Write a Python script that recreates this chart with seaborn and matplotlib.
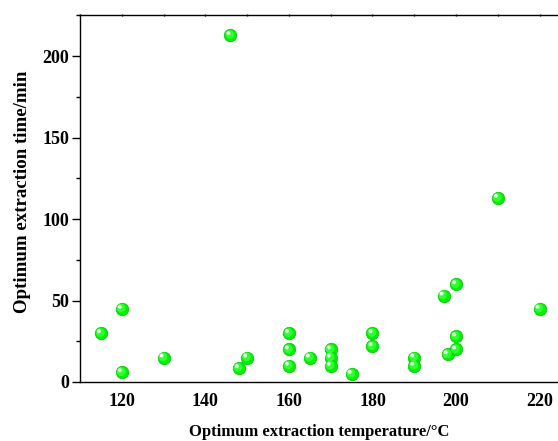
import matplotlib
matplotlib.use("Agg")
import matplotlib.pyplot as plt
import matplotlib.transforms as mtransforms
from matplotlib.ticker import MultipleLocator
import pandas as pd
import seaborn as sns

# Optimum extraction conditions
temperature = [115, 120, 120, 130, 146, 148, 150, 160, 160, 160, 165,
               170, 170, 170, 175, 180, 180, 190, 190, 197, 198, 200,
               200, 200, 210, 220]
time_min = [30, 45, 6, 15, 213, 8.5, 15, 30, 20, 10, 15,
            20, 15, 10, 5, 30, 22, 15, 10, 53, 17, 60,
            28, 20, 113, 45]

x_ticks = [120, 140, 160, 180, 200, 220]
y_ticks = [0, 50, 100, 150, 200]

df = pd.DataFrame({"temperature": temperature, "time": time_min})

sns.set_theme(style="white")
plt.rcParams["font.family"] = ["Liberation Serif", "DejaVu Serif"]
plt.rcParams["font.weight"] = "bold"

fig = plt.figure(figsize=(5.58, 4.41), dpi=100)
ax = fig.add_axes([0.1434, 0.1338, 0.8566, 0.8311])

# shaded green spheres: body, then a soft glint offset toward the upper left
sns.scatterplot(data=df, x="temperature", y="time", ax=ax, s=80,
                color="#00f000", edgecolor="#10c810", linewidth=0.6,
                zorder=3, legend=False)
sns.scatterplot(data=df, x="temperature", y="time", ax=ax, s=40,
                color="#30ff30", edgecolor="none", linewidth=0,
                zorder=4, legend=False)
shift_mid = mtransforms.ScaledTranslation(-0.6 / 100, 0.6 / 100, fig.dpi_scale_trans)
ax.collections[-1].set_offset_transform(ax.transData + shift_mid)
sns.scatterplot(data=df, x="temperature", y="time", ax=ax, s=8,
                color="#e8ffe8", edgecolor="none", linewidth=0,
                zorder=5, legend=False)
shift_hi = mtransforms.ScaledTranslation(-2.0 / 100, 2.0 / 100, fig.dpi_scale_trans)
ax.collections[-1].set_offset_transform(ax.transData + shift_hi)

ax.set_xlim(110, 224.4)
ax.set_ylim(0, 225)
ax.set_xticks(x_ticks)
ax.set_yticks(y_ticks)
ax.xaxis.set_minor_locator(MultipleLocator(10))
ax.yaxis.set_minor_locator(MultipleLocator(25))

for side in ["left", "bottom", "top"]:
    ax.spines[side].set_visible(True)
    ax.spines[side].set_color("black")
    ax.spines[side].set_linewidth(1.0)
ax.spines["right"].set_visible(False)

ax.tick_params(axis="both", which="major", direction="out", length=6,
               width=1.0, color="black", labelsize=13, labelcolor="black")
ax.tick_params(axis="both", which="minor", direction="out", length=3,
               width=1.0, color="black")
ax.tick_params(axis="x", which="major", pad=5)
ax.tick_params(axis="y", which="major", pad=2)
ax.tick_params(axis="x", which="both", top=True, direction="inout")
ax.tick_params(axis="y", which="both", left=True, right=False)
for lab in ax.get_xticklabels() + ax.get_yticklabels():
    lab.set_fontweight("bold")

# top ticks are short marks on the spine only
for t in ax.xaxis.get_major_ticks() + ax.xaxis.get_minor_ticks():
    t.tick2line.set_markersize(1.5)

ax.set_xlabel("Optimum extraction temperature/°C", fontsize=12,
              fontweight="bold", color="black", labelpad=10)
ax.set_ylabel("Optimum extraction time/min", fontsize=13.6,
              fontweight="bold", color="black")
ax.yaxis.set_label_coords(-0.102, 0.518)

fig.savefig("out.png", dpi=100)
